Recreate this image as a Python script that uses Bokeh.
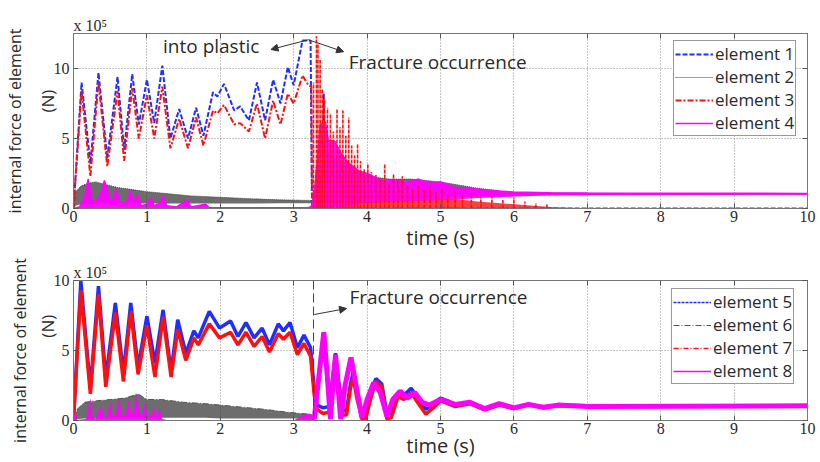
from bokeh.plotting import figure
from bokeh.models import (Range1d, FixedTicker, LinearAxis, Label, Arrow, NormalHead,
                          Span, Legend, LegendItem)
from bokeh.layouts import column
from bokeh.embed import file_html
from bokeh.resources import INLINE

# ---------------- data (values in x 10^5 N, time in s) ----------------
x_ticks = [0, 1, 2, 3, 4, 5, 6, 7, 8, 9, 10]
y_ticks = [0, 5, 10]

# top panel: element 1 (blue) and element 3 (red) before fracture
e1_t = [0.00, 0.11, 0.23, 0.34, 0.46, 0.60, 0.69, 0.80, 0.89, 1.00, 1.10, 1.21, 1.32, 1.44, 1.56,
        1.67, 1.77, 1.90, 1.96, 2.05, 2.19, 2.27, 2.39, 2.50, 2.61, 2.72, 2.82, 2.92, 3.00, 3.12,
        3.23, 3.25, 3.38, 3.41, 3.43, 10.0]
e1_v = [0.0, 9.0, 3.2, 9.7, 3.6, 9.4, 4.2, 9.6, 6.0, 9.2, 6.1, 10.2, 5.0, 7.1, 5.0,
        7.2, 5.2, 8.3, 8.0, 8.9, 7.0, 7.3, 6.3, 9.0, 6.3, 9.2, 7.5, 10.1, 8.8, 12.0,
        12.0, 0.0, 0.0, 8.2, 0.0, 0.0]
e3_t = [0.00, 0.11, 0.23, 0.34, 0.46, 0.60, 0.69, 0.80, 0.89, 1.00, 1.10, 1.21, 1.32, 1.44, 1.56,
        1.67, 1.77, 1.90, 1.96, 2.05, 2.19, 2.27, 2.39, 2.50, 2.61, 2.72, 2.82, 2.92, 3.00, 3.12,
        3.20, 3.24, 3.25]
e3_v = [0.0, 8.4, 2.3, 9.0, 3.0, 8.4, 3.4, 8.6, 5.0, 8.1, 5.0, 8.7, 4.3, 6.4, 4.3,
        6.5, 4.5, 7.0, 6.8, 7.4, 6.0, 6.1, 5.5, 7.5, 5.0, 7.7, 6.0, 8.2, 7.5, 9.5,
        8.8, 8.7, 0.0]
# element 3 after fracture: spikes and dense body
e3_spike_t = [3.27, 3.31, 3.33, 3.36, 3.39, 3.42, 3.46, 3.50, 3.54, 3.59, 3.63, 3.67, 3.71, 3.75,
              3.79, 3.83, 3.87, 3.91, 3.96, 4.01, 4.06, 4.12, 4.18, 4.24, 4.30, 4.36, 4.42, 4.48,
              4.55, 4.62, 4.70, 4.78, 4.86, 4.94, 5.02, 5.10, 5.20, 5.30, 5.42, 5.55, 5.70, 5.85,
              6.00, 6.15, 6.30, 6.45]
e3_spike_v = [9.0, 12.3, 11.8, 10.6, 8.5, 7.9, 7.2, 6.8, 5.5, 7.1, 5.8, 7.0, 5.2, 6.5,
              4.5, 3.8, 4.6, 3.4, 2.8, 3.2, 2.6, 2.4, 2.2, 3.2, 1.8, 2.5, 2.0, 2.3,
              1.6, 1.4, 1.6, 1.3, 1.5, 1.2, 1.4, 1.0, 1.2, 0.9, 1.1, 0.8, 0.9, 0.6,
              0.8, 0.5, 0.4, 0.3]
e3_body_t = [3.26, 3.30, 3.50, 3.75, 4.00, 4.50, 5.00, 5.50, 6.00, 6.50, 7.00]
e3_body_v = [0.0, 3.0, 2.5, 2.0, 1.5, 1.0, 0.8, 0.5, 0.3, 0.1, 0.0]
# element 2 (grey) noise band
e2_t = [0.00, 0.03, 0.10, 0.20, 0.30, 0.45, 0.60, 0.80, 1.00, 1.30, 1.60, 2.00, 2.40, 2.80,
        3.20, 3.25, 3.28, 3.35, 3.45, 3.60, 3.80, 4.00, 4.30, 4.60, 5.00, 5.50, 6.00, 10.0]
e2_hi = [0.0, 1.2, 1.6, 1.8, 1.9, 1.7, 1.5, 1.35, 1.2, 1.05, 0.9, 0.8, 0.7, 0.62,
         0.58, 0.55, 1.2, 2.6, 4.0, 3.5, 2.8, 2.3, 2.1, 2.1, 1.9, 1.45, 1.12, 1.0]
e2_lo = [0.0, 0.2, 0.3, 0.3, 0.35, 0.35, 0.35, 0.35, 0.35, 0.35, 0.35, 0.35, 0.35, 0.38,
         0.38, 0.38, 0.0, 0.0, 0.2, 0.3, 0.4, 0.5, 0.6, 0.7, 0.8, 0.9, 0.95, 0.98]
# element 4 (magenta) noise band
e4_t = [0.00, 0.08, 0.15, 0.20, 0.25, 0.30, 0.38, 0.42, 0.48, 0.52, 0.58, 0.63, 0.72, 0.77,
        0.82, 0.87, 0.92, 1.00, 1.05, 1.10, 1.18, 1.22, 1.27, 1.40, 1.55, 1.60, 1.80, 1.85,
        3.20, 3.25, 3.30, 3.36, 3.43, 3.47, 3.56, 3.65, 3.74, 3.88, 4.00, 4.20, 4.42, 4.55,
        4.70, 4.85, 5.00, 5.20, 5.50, 5.80, 6.00, 6.50, 7.00, 10.0]
e4_hi = [0.0, 0.1, 0.8, 2.1, 0.6, 0.4, 1.2, 2.0, 1.0, 0.3, 1.4, 0.5, 0.3, 1.3,
         0.4, 1.0, 0.2, 0.3, 0.8, 0.2, 0.4, 0.95, 0.2, 0.1, 0.6, 0.1, 0.3, 0.05,
         0.05, 0.2, 2.0, 6.0, 6.2, 4.9, 4.8, 3.9, 3.3, 2.7, 2.5, 2.0, 2.0, 1.9,
         2.1, 1.8, 1.9, 1.5, 1.4, 1.25, 1.17, 1.12, 1.1, 1.08]
e4_lo = [0.0, 0.0, 0.0, 0.0, 0.0, 0.0, 0.0, 0.0, 0.0, 0.0, 0.0, 0.0, 0.0, 0.0,
         0.0, 0.0, 0.0, 0.0, 0.0, 0.0, 0.0, 0.0, 0.0, 0.0, 0.0, 0.0, 0.0, 0.0,
         0.0, 0.0, 0.0, 0.0, 0.0, 0.0, 0.1, 0.1, 0.2, 0.3, 0.4, 0.45, 0.5, 0.5,
         0.55, 0.55, 0.6, 0.65, 0.75, 0.8, 0.85, 0.92, 0.95, 0.98]

# bottom panel: element 5 (blue) and element 7 (red)
e5_t = [0.00, 0.10, 0.23, 0.34, 0.44, 0.57, 0.68, 0.78, 0.88, 1.00, 1.11, 1.22, 1.33, 1.42,
        1.53, 1.64, 1.70, 1.85, 1.99, 2.14, 2.24, 2.35, 2.46, 2.57, 2.67, 2.79, 2.86, 2.95,
        3.05, 3.14, 3.23, 3.28, 3.32, 3.40, 3.48, 3.53, 3.57, 3.62, 3.67, 3.72, 3.77, 3.81,
        3.86, 3.93, 3.98, 4.05, 4.12, 4.20, 4.27, 4.33, 4.42, 4.50, 4.60, 4.70, 4.80, 4.90,
        5.00, 5.10, 5.20, 5.40, 5.60, 5.80, 6.00, 6.20, 6.40, 6.60, 7.00, 10.0]
e5_v = [0.0, 9.95, 2.3, 9.6, 3.0, 8.4, 3.4, 8.4, 3.8, 7.45, 4.1, 7.9, 3.5, 7.2,
        4.8, 6.4, 5.9, 7.8, 6.6, 7.1, 6.0, 7.0, 5.9, 6.6, 5.4, 6.9, 6.4, 7.0,
        5.2, 6.1, 5.2, 2.2, 1.1, 0.9, 1.0, 3.0, 4.8, 2.5, 0.7, 0.7, 2.5, 3.5,
        2.0, 0.5, 0.4, 2.0, 3.0, 2.6, 0.5, 0.5, 2.0, 1.8, 2.3, 1.5, 0.8, 1.2,
        1.6, 1.4, 1.15, 1.3, 0.85, 1.2, 0.9, 1.15, 0.95, 1.1, 1.05, 1.05]
e7_v = [0.0, 9.3, 1.9, 9.0, 2.4, 7.7, 2.8, 7.8, 3.3, 6.8, 3.1, 7.4, 3.1, 6.5,
        4.3, 5.9, 5.4, 6.9, 5.9, 6.3, 5.4, 6.3, 5.3, 6.0, 4.9, 6.2, 5.8, 6.3,
        4.7, 5.5, 4.6, 1.8, 0.8, 0.5, 0.6, 2.6, 4.4, 2.2, 0.4, 0.4, 2.2, 3.1,
        1.6, 0.1, 0.1, 1.6, 2.8, 2.4, 0.1, 0.2, 1.7, 1.5, 2.0, 1.2, 0.45, 0.9,
        1.4, 1.2, 1.0, 1.2, 0.75, 1.1, 0.85, 1.1, 0.9, 1.05, 1.0, 1.02]
# element 6 (grey) noise band before fracture
e6_t = [0.00, 0.05, 0.15, 0.30, 0.50, 0.70, 0.88, 1.00, 1.20, 1.50, 1.80, 2.00, 2.30, 2.60,
        2.90, 3.10, 3.25]
e6_hi = [0.0, 0.8, 1.3, 1.4, 1.5, 1.6, 1.9, 1.5, 1.5, 1.3, 1.2, 1.1, 0.95, 0.8,
         0.6, 0.5, 0.45]
e6_lo = [0.0, 0.1, 0.15, 0.15, 0.2, 0.2, 0.2, 0.2, 0.2, 0.2, 0.2, 0.15, 0.15, 0.15,
         0.15, 0.15, 0.15]
# element 8 (magenta): bursts before fracture, oscillation after
e8_t = [0.00, 0.02, 0.05, 0.17, 0.21, 0.23, 0.26, 0.30, 0.35, 0.38, 0.41, 0.45, 0.50, 0.53,
        0.57, 0.62, 0.66, 0.70, 0.75, 0.79, 0.82, 0.85, 0.90, 0.94, 0.97, 1.01, 1.06, 1.10,
        1.14, 1.17, 1.21, 1.30, 3.00, 3.10, 3.20, 3.26]
e8_hi = [0.0, 0.7, 0.05, 0.1, 1.0, 1.6, 0.3, 0.1, 0.8, 1.1, 0.3, 0.2, 1.4, 0.4,
         0.3, 1.6, 0.4, 0.3, 1.5, 0.4, 0.6, 2.0, 0.5, 0.4, 1.3, 0.3, 0.3, 1.0,
         0.3, 0.9, 0.1, 0.0, 0.0, 0.3, 0.5, 0.3]
e8p_t = [3.26, 3.28, 3.34, 3.41, 3.46, 3.50, 3.54, 3.57, 3.61, 3.64, 3.70, 3.78, 3.85, 3.93,
         4.00, 4.09, 4.18, 4.27, 4.35, 4.45, 4.55, 4.65, 4.75, 4.85, 5.00, 5.20, 5.40, 5.60,
         5.80, 6.00, 6.20, 6.40, 6.60, 7.00, 10.0]
e8p_v = [0.3, 0.1, 3.0, 6.3, 3.0, 0.1, 3.0, 4.7, 2.0, 0.1, 2.5, 4.5, 2.5, 0.2,
         1.5, 2.7, 2.0, 0.3, 1.5, 2.1, 1.6, 2.0, 1.3, 1.1, 1.5, 1.15, 1.3, 0.85,
         1.2, 0.9, 1.15, 0.95, 1.1, 1.0, 1.05]

fracture_t = 3.27

BLUE = "#1f2fff"
RED = "#ff1010"
MAG = "#ff00ff"
GREY = "#3c3c3c"
TXT = "#2a2a2a"
NB = "\u00a0"


def make_fig(height, ymax, bl, br, bt, bb, s_n, s_label, s_time, n_shift):
    p = figure(width=820, height=height, x_range=Range1d(0, 10), y_range=Range1d(0, ymax),
               output_backend="svg", toolbar_location=None, title="x 10\u2075",
               min_border_left=bl, min_border_right=br, min_border_top=bt, min_border_bottom=bb)
    p.title.align = "left"
    p.title.text_font = "Liberation Serif"
    p.title.text_font_size = "16px"
    p.title.text_font_style = "normal"
    p.title.text_color = TXT
    p.title.standoff = 0
    p.outline_line_color = "#777777"
    p.background_fill_color = "white"
    p.border_fill_color = "white"
    for ax in [p.xaxis[0], p.yaxis[0]]:
        ax.major_tick_in = 5
        ax.major_tick_out = 0
        ax.minor_tick_line_color = None
        ax.axis_line_color = "#777777"
        ax.major_tick_line_color = "#555555"
        ax.major_label_text_font = "Liberation Serif"
        ax.major_label_text_font_size = "16px"
        ax.major_label_text_color = TXT
        ax.axis_label_text_font = "Open Sans"
        ax.axis_label_text_font_style = "normal"
        ax.axis_label_text_color = TXT
    p.xaxis.ticker = FixedTicker(ticks=x_ticks)
    p.yaxis.ticker = FixedTicker(ticks=y_ticks)
    p.xaxis.major_label_standoff = 2
    p.yaxis.major_label_standoff = 4
    p.xaxis.axis_label = "time (s)"
    p.xaxis.axis_label_text_font_size = "20px"
    p.xaxis.axis_label_standoff = s_time
    p.yaxis.axis_label = NB * n_shift + "(N)"
    p.yaxis.axis_label_text_font_size = "17px"
    p.yaxis.axis_label_standoff = s_n
    outer = LinearAxis(ticker=FixedTicker(ticks=[]), axis_line_color=None,
                       major_tick_line_color=None, minor_tick_line_color=None,
                       major_label_standoff=0, axis_label="internal force of element",
                       axis_label_text_font="Open Sans", axis_label_text_font_size="16px",
                       axis_label_text_font_style="normal", axis_label_text_color=TXT,
                       axis_label_standoff=s_label)
    p.add_layout(outer, "left")
    # box ticks on the right and top edges (no labels)
    for loc, ticks in [("right", y_ticks), ("above", x_ticks)]:
        ax = LinearAxis(ticker=FixedTicker(ticks=ticks), major_tick_in=5, major_tick_out=0,
                        minor_tick_line_color=None, axis_line_color="#777777",
                        major_tick_line_color="#555555", major_label_standoff=0,
                        major_label_text_font_size="1px", major_label_text_color=None)
        p.add_layout(ax, loc)
    p.xgrid.ticker = FixedTicker(ticks=x_ticks)
    p.ygrid.ticker = FixedTicker(ticks=y_ticks)
    for g in [p.xgrid[0], p.ygrid[0]]:
        g.grid_line_color = "#8a8a8a"
        g.grid_line_dash = "1 2"
        g.grid_line_width = 1
    return p


def style_legend(leg):
    leg.label_text_font = "Open Sans"
    leg.label_text_font_size = "17px"
    leg.label_text_color = TXT
    leg.glyph_width = 38
    leg.glyph_height = 18
    leg.label_height = 18
    leg.spacing = 0
    leg.padding = 1
    leg.margin = 0
    leg.label_standoff = 2
    leg.border_line_color = "#333333"
    leg.border_line_width = 1
    leg.background_fill_alpha = 1.0


# ---------------- top panel ----------------
p1 = make_fig(254, 12.5, 73, 8, 33, 46, -8, 7, -1, 9)

r1 = p1.line(e1_t, e1_v, line_color=BLUE, line_width=2, line_dash="5 2")
p1.varea(x=e2_t, y1=e2_lo, y2=e2_hi, fill_color=GREY, fill_alpha=0.75)
r2 = p1.line(e2_t, e2_hi, line_color=GREY, line_width=1, line_dash="1 1")
r3 = p1.line(e3_t, e3_v, line_color=RED, line_width=2, line_dash="6 2 2 2")
p1.varea(x=e3_body_t, y1=[0.0] * len(e3_body_t), y2=e3_body_v, fill_color=RED, fill_alpha=0.8)
p1.varea(x=e4_t, y1=e4_lo, y2=e4_hi, fill_color=MAG, fill_alpha=0.95)
r4 = p1.line(e4_t, e4_hi, line_color=MAG, line_width=1.5)
p1.segment(x0=e3_spike_t, y0=[0.0] * len(e3_spike_t), x1=e3_spike_t, y1=e3_spike_v,
           line_color=RED, line_width=1.6, line_dash="4 1")

leg1 = Legend(items=[LegendItem(label="element 1", renderers=[r1]),
                     LegendItem(label="element 2", renderers=[r2]),
                     LegendItem(label="element 3", renderers=[r3]),
                     LegendItem(label="element 4", renderers=[r4])],
              location=(600, 72))
style_legend(leg1)
p1.add_layout(leg1)

head = dict(size=7, fill_color="#333333", line_color="#333333")
p1.add_layout(Arrow(end=NormalHead(**head), x_start=3.2, y_start=12.05, x_end=2.69, y_end=11.36,
                    line_color="#333333", line_width=1))
p1.add_layout(Arrow(end=NormalHead(**head), x_start=3.2, y_start=12.05, x_end=3.68, y_end=11.2,
                    line_color="#333333", line_width=1))
p1.add_layout(Label(x=1.22, y=11.64, text="into plastic", text_font="Open Sans",
                    text_font_size="19px", text_color=TXT, text_baseline="middle"))
p1.add_layout(Label(x=3.75, y=10.43, text="Fracture occurrence", text_font="Open Sans",
                    text_font_size="19px", text_color=TXT, text_baseline="middle"))

# ---------------- bottom panel ----------------
p2 = make_fig(208, 10, 70, 13, 26, 42, -8, 2, -5, 11)

p2.varea(x=e6_t, y1=e6_lo, y2=e6_hi, fill_color=GREY, fill_alpha=0.75)
r6 = p2.line(e6_t, e6_hi, line_color="#555555", line_width=1, line_dash="6 2 1 2")
p2.line(e5_t, e5_v, line_color=BLUE, line_width=3.5)
r5 = p2.line(e5_t, e5_v, line_color=BLUE, line_width=1.5, line_dash="3 1")
p2.line(e5_t, e7_v, line_color=RED, line_width=3.5)
r7 = p2.line(e5_t, e7_v, line_color=RED, line_width=1.5, line_dash="5 2 1 2")
p2.varea(x=e8_t, y1=[0.0] * len(e8_t), y2=e8_hi, fill_color=MAG, fill_alpha=0.95)
p2.line(e8p_t, e8p_v, line_color=MAG, line_width=5)
r8 = p2.line(e8p_t, e8p_v, line_color=MAG, line_width=1.5)

leg2 = Legend(items=[LegendItem(label="element 5", renderers=[r5]),
                     LegendItem(label="element 6", renderers=[r6]),
                     LegendItem(label="element 7", renderers=[r7]),
                     LegendItem(label="element 8", renderers=[r8])],
              location=(598, 36))
style_legend(leg2)
p2.add_layout(leg2)

p2.add_layout(Span(location=fracture_t, dimension="height", line_color="#444444",
                   line_dash="9 4", line_width=1))
p2.add_layout(Arrow(end=NormalHead(**head), x_start=3.28, y_start=7.57, x_end=3.72, y_end=8.0,
                    line_color="#333333", line_width=1))
p2.add_layout(Label(x=3.76, y=8.8, text="Fracture occurrence", text_font="Open Sans",
                    text_font_size="19px", text_color=TXT, text_baseline="middle"))

layout = column(p1, p2, spacing=0)
open("out.html", "w").write(file_html(layout, INLINE))
